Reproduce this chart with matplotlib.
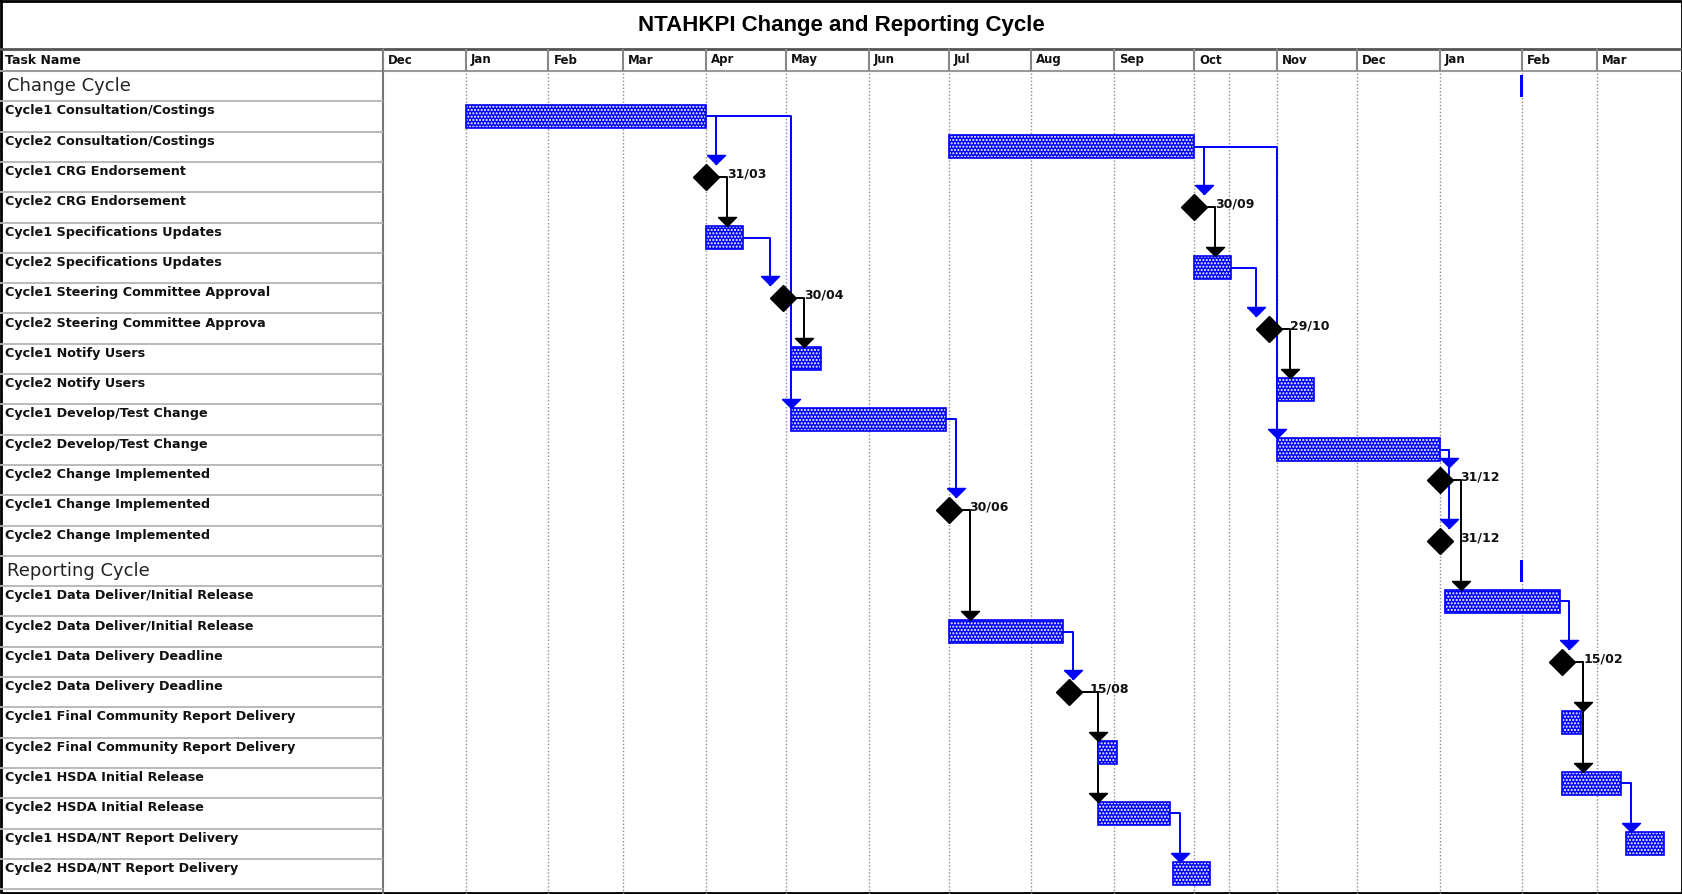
import matplotlib
matplotlib.use('Agg')
import matplotlib.pyplot as plt
import matplotlib.dates as mdates

W, H = 1683, 894

title = "NTAHKPI Change and Reporting Cycle"

# task table rows, top to bottom
task_names = [
    "Change Cycle",
    "Cycle1 Consultation/Costings",
    "Cycle2 Consultation/Costings",
    "Cycle1 CRG Endorsement",
    "Cycle2 CRG Endorsement",
    "Cycle1 Specifications Updates",
    "Cycle2 Specifications Updates",
    "Cycle1 Steering Committee Approval",
    "Cycle2 Steering Committee Approva",
    "Cycle1 Notify Users",
    "Cycle2 Notify Users",
    "Cycle1 Develop/Test Change",
    "Cycle2 Develop/Test Change",
    "Cycle2 Change Implemented",
    "Cycle1 Change Implemented",
    "Cycle2 Change Implemented",
    "Reporting Cycle",
    "Cycle1 Data Deliver/Initial Release",
    "Cycle2 Data Deliver/Initial Release",
    "Cycle1 Data Delivery Deadline",
    "Cycle2 Data Delivery Deadline",
    "Cycle1 Final Community Report Delivery",
    "Cycle2 Final Community Report Delivery",
    "Cycle1 HSDA Initial Release",
    "Cycle2 HSDA Initial Release",
    "Cycle1 HSDA/NT Report Delivery",
    "Cycle2 HSDA/NT Report Delivery",
]
section_rows = [0, 16]

# task bars
bar_rows = [1, 2, 5, 6, 9, 10, 11, 12, 17, 18, 21, 22, 23, 24, 25, 26]
bar_starts = ["2009-01-01", "2009-07-01", "2009-04-01", "2009-10-01", "2009-05-03",
              "2009-11-01", "2009-05-03", "2009-11-01", "2010-01-03", "2009-07-01",
              "2010-02-16", "2009-08-26", "2010-02-16", "2009-08-26", "2010-03-12",
              "2009-09-23"]
bar_ends = ["2009-04-01", "2009-10-01", "2009-04-15", "2009-10-15", "2009-05-14",
            "2009-11-15", "2009-06-30", "2010-01-01", "2010-02-15", "2009-08-13",
            "2010-02-23", "2009-09-02", "2010-03-10", "2009-09-22", "2010-03-26",
            "2009-10-07"]

# milestones
ms_rows = [3, 4, 7, 8, 13, 14, 15, 19, 20]
ms_dates = ["2009-04-01", "2009-10-01", "2009-04-30", "2009-10-29", "2010-01-01",
            "2009-07-01", "2010-01-01", "2010-02-16", "2009-08-15"]
ms_labels = ["31/03", "30/09", "30/04", "29/10", "31/12", "30/06", "31/12", "15/02", "15/08"]

# summary markers
summary_rows = [0, 16]
summary_dates = ["2010-01-31", "2010-01-31"]

# dependencies: from row -> to row
link_from = [1, 1, 2, 2, 3, 4, 5, 6, 7, 8, 11, 12, 12, 14, 13, 18, 17, 20, 20, 19, 19, 24, 23]
link_to = [3, 11, 4, 12, 5, 6, 7, 8, 9, 10, 14, 13, 15, 18, 17, 20, 19, 22, 24, 21, 23, 26, 25]

# timescale
months = ["Dec", "Jan", "Feb", "Mar", "Apr", "May", "Jun", "Jul", "Aug", "Sep",
          "Oct", "Nov", "Dec", "Jan", "Feb", "Mar"]
month_starts = ["2008-12-01", "2009-01-01", "2009-02-01", "2009-03-01", "2009-04-01",
                "2009-05-01", "2009-06-01", "2009-07-01", "2009-08-01", "2009-09-01",
                "2009-10-01", "2009-11-01", "2009-12-01", "2010-01-01", "2010-02-01",
                "2010-03-01"]
extra_grid = "2009-10-14"

BLUE = '#0000ff'
TXT = dict(family='DejaVu Sans', fontweight='bold', color='#111111')

fig = plt.figure(figsize=(W / 100, H / 100), dpi=100)

# geometry in pixels
left_col = 383
head_top, head_bot = 49, 71
rh = 30.3
gantt_h = H - head_bot
ybot = gantt_h / rh

x0 = mdates.datestr2num(month_starts[0])
x1 = x0 + (W - left_col) / 2.668
day_px = (W - left_col) / (x1 - x0)


def px(n):
    return n / day_px


def py(n):
    return n / rh


# background frame
bg = fig.add_axes([0, 0, 1, 1], zorder=-1)
bg.set_xlim(0, W)
bg.set_ylim(H, 0)
bg.axis('off')
bg.plot([1, W - 1, W - 1, 1, 1], [1, 1, H - 1, H - 1, 1], color='black', lw=2)
bg.plot([0, W], [head_top, head_top], color='#555555', lw=2)
bg.plot([0, W], [head_bot, head_bot], color='#999999', lw=1.5)
bg.plot([left_col, left_col], [head_top, H], color='#777777', lw=1.5)

fig.text(0.5, 1 - 25 / H, title, ha='center', va='center', fontsize=16,
         fontweight='bold', family='Liberation Sans')
fig.text(5 / W, 1 - 60 / H, "Task Name", ha='left', va='center', fontsize=9, **TXT)

# header with months
axh = fig.add_axes([left_col / W, 1 - head_bot / H, (W - left_col) / W, (head_bot - head_top) / H])
axh.set_xlim(x0, x1)
axh.set_ylim(0, 1)
axh.axis('off')
for m, d in zip(months, month_starts):
    xm = mdates.datestr2num(d)
    axh.axvline(xm, color='#888888', lw=1.5)
    axh.text(xm + px(5), 0.5, m, ha='left', va='center', fontsize=8.5, **TXT)

# task table
axt = fig.add_axes([0, 0, left_col / W, gantt_h / H])
axt.set_xlim(0, left_col)
axt.set_ylim(ybot, 0)
axt.axis('off')
for i, name in enumerate(task_names):
    if i in section_rows:
        axt.text(7, i + 0.5, name, ha='left', va='center', fontsize=13,
                 family='DejaVu Sans', color='#222222')
    else:
        axt.text(5, i + 0.32, name, ha='left', va='center', fontsize=9.2, **TXT)
    if i > 0:
        axt.axhline(i, color='#b4b4b4', lw=1.3)
axt.axhline(len(task_names), color='#b4b4b4', lw=1.3)

# gantt area
ax = fig.add_axes([left_col / W, 0, (W - left_col) / W, gantt_h / H])
ax.set_xlim(x0, x1)
ax.set_ylim(ybot, 0)
ax.axis('off')

for d in month_starts[1:] + [extra_grid]:
    ax.axvline(mdates.datestr2num(d), color='#8c8c8c', lw=1, ls=(0, (1, 1.5)), zorder=1)

bh = 0.76
info = {}
for r, s, e in zip(bar_rows, bar_starts, bar_ends):
    s, e = mdates.datestr2num(s), mdates.datestr2num(e)
    info[r] = ('bar', s, e)
    ax.barh(r + 0.5, e - s, left=s, height=bh, color=BLUE, edgecolor='white',
            hatch='.....', lw=0, zorder=3)
    ax.barh(r + 0.5, e - s, left=s, height=bh, fill=False, edgecolor=BLUE, lw=1.2, zorder=4)

for r, d in zip(summary_rows, summary_dates):
    d = mdates.datestr2num(d)
    ax.barh(r + 0.5, px(3), left=d, height=0.72, color=BLUE, lw=0, zorder=3)

for r, d, lab in zip(ms_rows, ms_dates, ms_labels):
    d = mdates.datestr2num(d)
    info[r] = ('ms', d, d)
    ax.plot(d, r + 0.5, marker='D', ms=13, color='black', zorder=6)
    ax.text(d + px(21), r + 0.5 - py(3), lab, ha='left', va='center', fontsize=9, **TXT)

# dependency lines with down-pointing arrowheads
arrow = [(-1, 1), (1, 1), (0, 0), (-1, 1)]
for f, t in zip(link_from, link_to):
    kf, sf, ef = info[f]
    kt, st, et = info[t]
    col = BLUE if kf == 'bar' else 'black'
    yc = f + 0.5
    xv = ef + (px(9.7) if kf == 'bar' else px(21))
    if kt == 'bar':
        xv = max(xv, st)
        ytop = t + (1 - bh) / 2
    else:
        xv = max(xv, st - px(13))
        ytop = t + 0.5 - py(13)
    ax.plot([ef, xv, xv], [yc, yc, ytop], color=col, lw=1.4, zorder=2)
    ax.plot(xv, ytop, marker=arrow, ms=13, color=col, zorder=7)

fig.savefig('out.png', dpi=100)
